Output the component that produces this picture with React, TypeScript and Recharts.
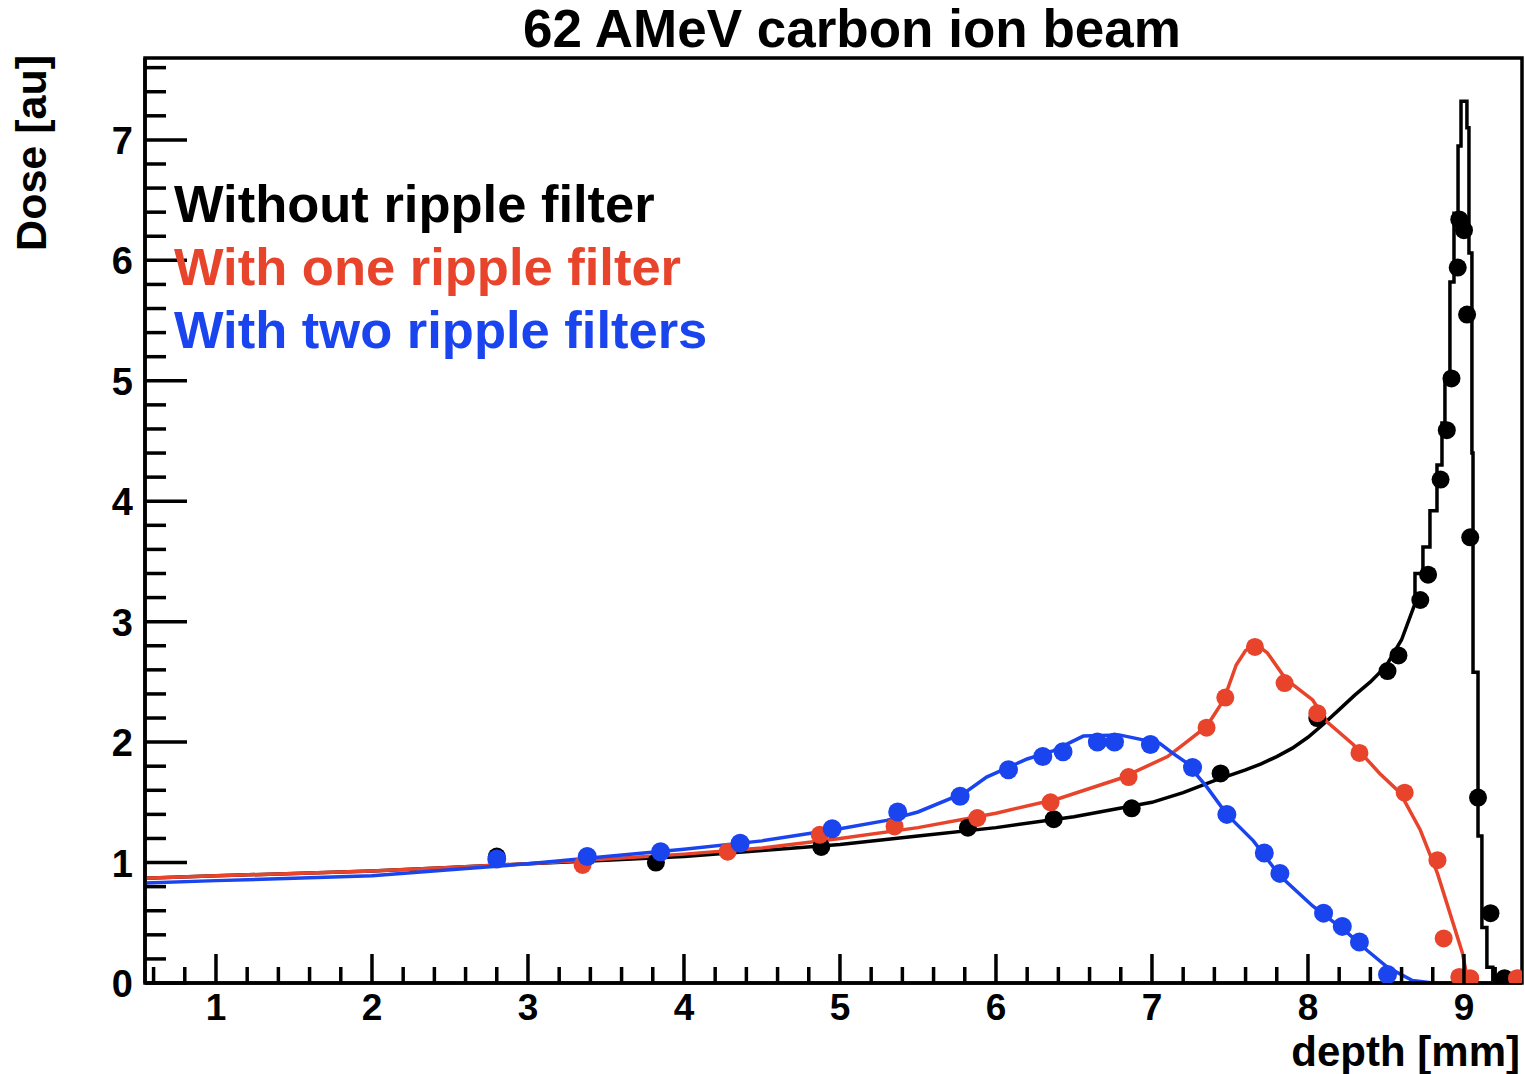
import React from 'react';
import { ComposedChart, Line, Scatter, XAxis, YAxis, ReferenceArea } from 'recharts';

const FONT = '"Liberation Sans", Arial, Helvetica, sans-serif';
const RED = '#e8442c';
const BLUE = '#1a44ee';

const depthTicks = [0.6, 0.8, 1, 1.2, 1.4, 1.6, 1.8, 2, 2.2, 2.4, 2.6, 2.8, 3, 3.2, 3.4, 3.6, 3.8, 4, 4.2, 4.4, 4.6, 4.8, 5, 5.2, 5.4, 5.6, 5.8, 6, 6.2, 6.4, 6.6, 6.8, 7, 7.2, 7.4, 7.6, 7.8, 8, 8.2, 8.4, 8.6, 8.8, 9, 9.2];
const doseTicks = [0, 0.2, 0.4, 0.6, 0.8, 1, 1.2, 1.4, 1.6, 1.8, 2, 2.2, 2.4, 2.6, 2.8, 3, 3.2, 3.4, 3.6, 3.8, 4, 4.2, 4.4, 4.6, 4.8, 5, 5.2, 5.4, 5.6, 5.8, 6, 6.2, 6.4, 6.6, 6.8, 7, 7.2, 7.4, 7.6];

// Histogram-like curves (depth [mm], dose [au])
const blackLine = [
  [0.545, 0.87], [1.0, 0.89], [1.5, 0.91], [2.0, 0.93], [2.5, 0.96], [3.0, 0.99], [3.5, 1.02], [4.0, 1.05],
  [4.5, 1.10], [5.0, 1.15], [5.5, 1.22], [6.0, 1.29], [6.5, 1.38], [7.0, 1.50], [7.2, 1.58], [7.4, 1.68],
  [7.6, 1.77], [7.7, 1.82], [7.8, 1.88], [7.9, 1.95], [8.0, 2.04], [8.1, 2.15], [8.2, 2.27], [8.3, 2.39],
  [8.4, 2.50], [8.5, 2.63], [8.6, 2.85], [8.686, 3.15], [8.686, 3.40], [8.737, 3.40], [8.737, 3.62],
  [8.782, 3.62], [8.782, 3.92], [8.827, 3.92], [8.827, 4.30], [8.859, 4.30], [8.859, 4.65], [8.878, 4.65],
  [8.878, 5.00], [8.910, 5.00], [8.910, 5.82], [8.936, 5.82], [8.936, 6.39], [8.962, 6.39], [8.962, 6.95],
  [8.981, 6.95], [8.981, 7.32], [9.019, 7.32], [9.019, 7.10], [9.032, 7.10], [9.032, 6.06], [9.051, 6.06],
  [9.051, 4.40], [9.058, 4.40], [9.058, 2.58], [9.090, 2.58], [9.090, 1.22], [9.115, 1.22], [9.115, 0.46],
  [9.147, 0.46], [9.147, 0.13], [9.185, 0.13], [9.185, 0.03], [9.24, 0.03], [9.24, 0.0], [9.372, 0.0],
].map(([x, y]) => ({ x, y }));

const redLine = [
  [0.545, 0.87], [1.0, 0.89], [1.5, 0.91], [2.0, 0.93], [2.5, 0.96], [3.0, 0.99], [3.5, 1.03], [4.0, 1.07],
  [4.5, 1.12], [5.0, 1.20], [5.5, 1.29], [6.0, 1.41], [6.4, 1.53], [6.8, 1.70], [7.1, 1.88], [7.2, 1.98],
  [7.35, 2.13], [7.46, 2.35], [7.54, 2.64], [7.6, 2.76], [7.67, 2.81], [7.74, 2.74], [7.86, 2.52],
  [8.03, 2.35], [8.12, 2.17], [8.29, 1.98], [8.46, 1.74], [8.59, 1.58], [8.72, 1.27], [8.83, 0.91],
  [8.91, 0.58], [8.99, 0.25], [9.02, 0.05], [9.04, 0.0], [9.372, 0.0],
].map(([x, y]) => ({ x, y }));

const blueLine = [
  [0.545, 0.83], [1.0, 0.85], [1.5, 0.87], [2.0, 0.89], [2.5, 0.94], [3.0, 0.99], [3.5, 1.05], [4.0, 1.11],
  [4.5, 1.18], [5.0, 1.28], [5.3, 1.35], [5.5, 1.42], [5.8, 1.58], [5.94, 1.71], [6.2, 1.86], [6.37, 1.93],
  [6.56, 2.05], [6.79, 2.06], [7.05, 1.99], [7.13, 1.91], [7.22, 1.83], [7.35, 1.63], [7.48, 1.40],
  [7.65, 1.18], [7.82, 0.89], [8.03, 0.64], [8.25, 0.42], [8.38, 0.27], [8.51, 0.13], [8.67, 0.02],
  [8.8, 0.0], [9.372, 0.0],
].map(([x, y]) => ({ x, y }));

// Measured points
const blackPoints = [
  [2.80, 1.05], [3.82, 1.00], [4.88, 1.13], [5.82, 1.29], [6.37, 1.36], [6.87, 1.45], [7.44, 1.74],
  [8.06, 2.20], [8.51, 2.59], [8.58, 2.72], [8.72, 3.18], [8.77, 3.39], [8.85, 4.18], [8.89, 4.59],
  [8.92, 5.02], [8.96, 5.94], [8.97, 6.34], [9.00, 6.25], [9.02, 5.55], [9.04, 3.70], [9.09, 1.54],
  [9.17, 0.58], [9.26, 0.04],
].map(([x, y]) => ({ x, y }));

const redPoints = [
  [3.35, 0.98], [4.28, 1.09], [4.87, 1.23], [5.35, 1.30], [5.88, 1.37], [6.35, 1.50], [6.85, 1.71],
  [7.35, 2.12], [7.47, 2.37], [7.66, 2.79], [7.85, 2.49], [8.06, 2.24], [8.33, 1.91], [8.62, 1.58],
  [8.83, 1.02], [8.87, 0.37], [8.97, 0.05], [9.04, 0.04], [9.34, 0.04],
].map(([x, y]) => ({ x, y }));

const bluePoints = [
  [2.80, 1.03], [3.38, 1.05], [3.85, 1.09], [4.36, 1.16], [4.95, 1.28], [5.37, 1.42], [5.77, 1.55],
  [6.08, 1.77], [6.30, 1.88], [6.43, 1.92], [6.65, 2.00], [6.76, 2.00], [6.99, 1.98], [7.26, 1.79],
  [7.48, 1.40], [7.72, 1.08], [7.82, 0.91], [8.10, 0.58], [8.22, 0.47], [8.33, 0.34], [8.51, 0.07],
].map(([x, y]) => ({ x, y }));

const legendLabels = ['Without ripple filter', 'With one ripple filter', 'With two ripple filters'];
const legendColors = ['#000000', RED, BLUE];

const isMajor = (v: number) => Math.abs(v - Math.round(v)) < 1e-6;

// plot box in page pixels
const PLOT_LEFT = 145;
const PLOT_BOTTOM = 983;

const renderXTick = (props: any) => {
  const { x, payload } = props;
  const v = payload.value;
  const major = isMajor(v);
  const y = PLOT_BOTTOM;
  return (
    <g key={`xt-${v}`}>
      <line x1={x} x2={x} y1={y} y2={y - (major ? 29 : 16)} stroke="#000" strokeWidth={3.5} />
      {major && (
        <text x={x} y={y + 37} textAnchor="middle" fontFamily={FONT} fontWeight="bold" fontSize={37} fill="#000">
          {Math.round(v)}
        </text>
      )}
    </g>
  );
};

const renderYTick = (props: any) => {
  const { y, payload } = props;
  const v = payload.value;
  const major = isMajor(v);
  const x = PLOT_LEFT;
  return (
    <g key={`yt-${v}`}>
      <line x1={x} x2={x + (major ? 42 : 21)} y1={y} y2={y} stroke="#000" strokeWidth={3.5} />
      {major && (
        <text x={x - 12} y={y + 14} textAnchor="end" fontFamily={FONT} fontWeight="bold" fontSize={38} fill="#000">
          {Math.round(v)}
        </text>
      )}
    </g>
  );
};

const dot = (color: string, r: number) => (p: any) => <circle cx={p.cx} cy={p.cy} r={r} fill={color} />;

export default function App() {
  return (
    <div style={{ position: 'absolute', left: 0, top: 0, width: 1525, height: 1074, background: '#fff' }}>
      <ComposedChart width={1525} height={1074} margin={{ top: 58, right: 3, bottom: 31, left: 85 }}>
        <XAxis
          dataKey="x"
          type="number"
          domain={[0.545, 9.372]}
          allowDataOverflow
          ticks={depthTicks}
          interval={0}
          tick={renderXTick}
          tickLine={false}
          height={60}
          axisLine={{ stroke: '#000', strokeWidth: 3.5 }}
        />
        <YAxis
          dataKey="y"
          type="number"
          domain={[0, 7.68]}
          allowDataOverflow
          ticks={doseTicks}
          interval={0}
          tick={renderYTick}
          tickLine={false}
          width={60}
          axisLine={{ stroke: '#000', strokeWidth: 3.5 }}
        />
        <ReferenceArea x1={0.545} x2={9.372} y1={0} y2={7.68} fill="none" stroke="#000" strokeWidth={3.5} ifOverflow="visible" />
        <Line data={blackLine} dataKey="y" type="linear" stroke="#000" strokeWidth={3.5} dot={false} isAnimationActive={false} />
        <Scatter data={blackPoints} dataKey="y" fill="#000" shape={dot('#000', 9)} isAnimationActive={false} />
        <Line data={redLine} dataKey="y" type="linear" stroke={RED} strokeWidth={3.5} dot={false} isAnimationActive={false} />
        <Scatter data={redPoints} dataKey="y" fill={RED} shape={dot(RED, 9)} isAnimationActive={false} />
        <Line data={blueLine} dataKey="y" type="linear" stroke={BLUE} strokeWidth={3.5} dot={false} isAnimationActive={false} />
        <Scatter data={bluePoints} dataKey="y" fill={BLUE} shape={dot(BLUE, 9.5)} isAnimationActive={false} />
      </ComposedChart>
      <svg width={1525} height={1074} style={{ position: 'absolute', left: 0, top: 0, pointerEvents: 'none' }}>
        <text x={852} y={47} textAnchor="middle" fontFamily={FONT} fontWeight="bold" fontSize={53} fill="#000">
          62 AMeV carbon ion beam
        </text>
        <text x={46} y={55} transform="rotate(-90 46 55)" textAnchor="end" fontFamily={FONT} fontWeight="bold" fontSize={43} fill="#000">
          Dose [au]
        </text>
        <text x={1520} y={1066} textAnchor="end" fontFamily={FONT} fontWeight="bold" fontSize={42} fill="#000">
          depth [mm]
        </text>
        {legendLabels.map((t, i) => (
          <text key={t} x={174} y={222 + i * 63} fontFamily={FONT} fontWeight="bold" fontSize={52.5} fill={legendColors[i]}>
            {t}
          </text>
        ))}
      </svg>
    </div>
  );
}
